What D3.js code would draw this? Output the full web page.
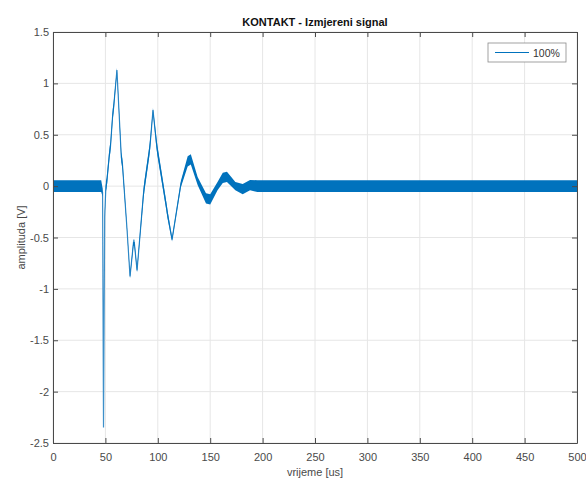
<!DOCTYPE html>
<html>
<head>
<meta charset="utf-8">
<script src="https://cdn.jsdelivr.net/npm/d3@7"></script>
<style>
  body { margin: 0; background: #fff; }
  svg text { font-family: "Liberation Sans", Arial, Helvetica, sans-serif; }
</style>
</head>
<body>
<svg id="chart"></svg>
<script>
var w_fig = 586; // SVG canvas size
var h_fig = 479;
var margin = { top: 32, right: 9, bottom: 36, left: 53 };

// Signal: time [us], centre value [V], half width of the noise band [V]
var time_us = [0, 46, 47.3, 48.2, 49.3, 50.5, 51.2, 54.0, 54.8, 57.0, 57.8, 61.0,
  65.2, 66.2, 70.5, 73.5, 76.8, 77.6, 80.2, 86.3, 87.2, 91.8, 92.8, 95.4, 98.7,
  99.7, 108.2, 109.2, 113.6, 122, 128.5, 131.5, 138, 146, 150, 157, 162, 166,
  174, 181, 188, 195, 500];
var amp_v = [0, 0, -0.06, -2.35, -0.3, 0.0, 0.03, 0.33, 0.38, 0.70, 0.76, 1.13,
  0.28, 0.22, -0.4, -0.88, -0.55, -0.55, -0.82, -0.08, 0.0, 0.33, 0.42, 0.74, 0.42,
  0.34, -0.2, -0.27, -0.52, 0.02, 0.24, 0.26, 0.05, -0.12, -0.13, 0.0, 0.08, 0.09,
  0.0, -0.03, 0.01, 0.0, 0.0];
var spread_v = [0.058, 0.058, 0.04, 0.01, 0.01, 0.05, 0.05, 0.05, 0.05, 0.05, 0.05, 0.02,
  0.05, 0.05, 0.02, 0.02, 0.03, 0.03, 0.02, 0.05, 0.05, 0.05, 0.05, 0.02, 0.05,
  0.05, 0.04, 0.04, 0.02, 0.03, 0.05, 0.05, 0.04, 0.05, 0.05, 0.04, 0.05, 0.05,
  0.04, 0.05, 0.05, 0.058, 0.058];

var x_ticks = [0, 50, 100, 150, 200, 250, 300, 350, 400, 450, 500];
var y_ticks = [-2.5, -2, -1.5, -1, -0.5, 0, 0.5, 1, 1.5];
var series_name = "100%";

var blue = "#0072BD";
var axis_col = "#4a4a4a";
var grid_col = "#e6e6e6";

var w_plot = w_fig - margin.left - margin.right;
var h_plot = h_fig - margin.top - margin.bottom;

var pts = time_us.map(function(t, i) { return { t: t, v: amp_v[i], s: spread_v[i] }; });

var x = d3.scaleLinear().domain([0, 500]).range([0, w_plot]);
var y = d3.scaleLinear().domain([-2.5, 1.5]).range([h_plot, 0]);

var svg = d3.select("#chart").attr("width", w_fig).attr("height", h_fig);
svg.append("rect").attr("width", w_fig).attr("height", h_fig).attr("fill", "#fff");

var g = svg.append("g").attr("transform", "translate(" + margin.left + "," + margin.top + ")");

// Grid
g.append("g").selectAll("line").data(x_ticks).enter().append("line")
  .attr("x1", function(d) { return x(d); }).attr("x2", function(d) { return x(d); })
  .attr("y1", 0).attr("y2", h_plot)
  .style("stroke", grid_col);
g.append("g").selectAll("line").data(y_ticks).enter().append("line")
  .attr("x1", 0).attr("x2", w_plot)
  .attr("y1", function(d) { return y(d); }).attr("y2", function(d) { return y(d); })
  .style("stroke", grid_col);

// Signal: centre line underneath, noise band drawn over it
g.append("clipPath").attr("id", "clip").append("rect").attr("width", w_plot).attr("height", h_plot);
var plot = g.append("g").attr("clip-path", "url(#clip)");

var band = d3.area()
  .x(function(d) { return x(d.t); })
  .y0(function(d) { return y(d.v - d.s); })
  .y1(function(d) { return y(d.v + d.s); });
var centre = d3.line()
  .x(function(d) { return x(d.t); })
  .y(function(d) { return y(d.v); });

plot.append("path").datum(pts).attr("d", centre)
  .attr("fill", "none").attr("stroke", "#3d8fc9").attr("stroke-width", 1.2);
plot.append("path").datum(pts).attr("d", band)
  .attr("fill", blue).attr("stroke", "none");

// Axes (MATLAB style: ticks inside, box on all four sides)
var fmt = function(d) { return String(d); };
function styleAxis(sel) {
  sel.select(".domain").attr("stroke", axis_col);
  sel.selectAll(".tick line").attr("stroke", axis_col);
  sel.selectAll(".tick text").attr("fill", axis_col).style("font-size", "11px");
}

g.append("g").attr("transform", "translate(0," + h_plot + ")")
  .call(d3.axisBottom(x).tickValues(x_ticks).tickFormat(fmt).tickSizeInner(-5).tickSizeOuter(0).tickPadding(10))
  .call(styleAxis);
g.append("g")
  .call(d3.axisTop(x).tickValues(x_ticks).tickFormat("").tickSizeInner(-5).tickSizeOuter(0))
  .call(styleAxis);
g.append("g")
  .call(d3.axisLeft(y).tickValues(y_ticks).tickFormat(fmt).tickSizeInner(-5).tickSizeOuter(0).tickPadding(4))
  .call(styleAxis);
g.append("g").attr("transform", "translate(" + w_plot + ",0)")
  .call(d3.axisRight(y).tickValues(y_ticks).tickFormat("").tickSizeInner(-5).tickSizeOuter(0))
  .call(styleAxis);

// Title and axis labels
svg.append("text").text("KONTAKT - Izmjereni signal")
  .attr("x", margin.left + w_plot / 2).attr("y", 26)
  .attr("text-anchor", "middle").style("font-size", "11px").style("font-weight", "bold")
  .attr("fill", "#111");
svg.append("text").text("vrijeme [us]")
  .attr("x", margin.left + w_plot / 2).attr("y", 476)
  .attr("text-anchor", "middle").style("font-size", "11px").attr("fill", axis_col);
svg.append("text").text("amplituda [V]")
  .attr("transform", "translate(25," + (margin.top + h_plot / 2) + ") rotate(-90)")
  .attr("text-anchor", "middle").style("font-size", "11px").attr("fill", axis_col);

// Legend
var legend = svg.append("g").attr("transform", "translate(488,43)");
legend.append("rect").attr("width", 78).attr("height", 19)
  .attr("fill", "#fff").attr("stroke", "#8a8a8a").attr("stroke-width", 0.8);
legend.append("line").attr("x1", 7).attr("x2", 41).attr("y1", 9.5).attr("y2", 9.5)
  .attr("stroke", blue).attr("stroke-width", 1);
legend.append("text").text(series_name).attr("x", 45).attr("y", 13.5)
  .style("font-size", "10.5px").attr("fill", "#333");
</script>
</body>
</html>
